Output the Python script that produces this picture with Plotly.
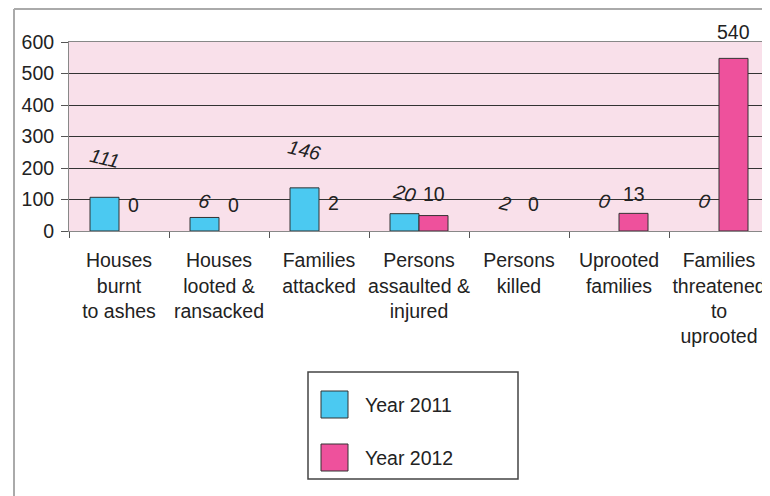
import plotly.graph_objects as go

categories = [
    "Houses<br>burnt<br>to ashes",
    "Houses<br>looted &<br>ransacked",
    "Families<br>attacked",
    "Persons<br>assaulted &<br>injured",
    "Persons<br>killed",
    "Uprooted<br>families",
    "Families<br>threatened<br>to<br>uprooted",
]
# bar heights as drawn in the picture
bars_2011 = [107, 43, 137, 55, 0, 0, 0]
bars_2012 = [0, 0, 0, 49, 0, 56, 548]
# value labels printed on the chart
labels_2011 = ["111", "6", "146", "20", "2", "0", "0"]
labels_2012 = ["0", "0", "2", "10", "0", "13", "540"]
y_ticks = [0, 100, 200, 300, 400, 500, 600]

# label placement (layout only: y in data units, extra shift in pixels)
label_pos_2011 = [232, 95, 257, 120, 89, 95, 95]
label_pos_2012 = [83, 83, 89, 117, 86, 117, 548]
label_shift_2012 = [0, 0, 0, 0, 0, 0, 26]

FONT = "Liberation Sans, Arial, sans-serif"
FS = 19.5
BLUE = "#4BC9F1"
PINK = "#EE519C"

fig = go.Figure()
fig.add_trace(go.Bar(x=categories, y=bars_2011, name="Year 2011",
                     marker=dict(color=BLUE,
                                 line=dict(color="#333", width=[1 if v else 0 for v in bars_2011]))))
fig.add_trace(go.Bar(x=categories, y=bars_2012, name="Year 2012",
                     marker=dict(color=PINK,
                                 line=dict(color="#333", width=[1 if v else 0 for v in bars_2012]))))

annotations = []
for i, c in enumerate(categories):
    annotations.append(dict(x=c, y=label_pos_2011[i], xref="x", yref="y",
                            text="<i>" + labels_2011[i] + "</i>", showarrow=False,
                            xshift=-14.5, textangle=13,
                            font=dict(family=FONT, size=FS, color="#222")))
    annotations.append(dict(x=c, y=label_pos_2012[i], xref="x", yref="y",
                            text=labels_2012[i], showarrow=False,
                            xshift=14.5, yshift=label_shift_2012[i],
                            font=dict(family=FONT, size=FS, color="#222")))

# plot area in page pixels: x 69..769, y 42..231
def px(x):
    return (x - 69) / 700.0

def py(y):
    return (231 - y) / 189.0

shapes = []
# outer frame (left and top edges)
shapes.append(dict(type="line", xref="paper", yref="paper", x0=px(14), x1=px(14),
                   y0=py(9), y1=py(500), line=dict(color="#aaa", width=2)))
shapes.append(dict(type="line", xref="paper", yref="paper", x0=px(14), x1=px(775),
                   y0=py(9), y1=py(9), line=dict(color="#aaa", width=2)))
# legend box
shapes.append(dict(type="rect", xref="paper", yref="paper", x0=px(308), x1=px(518),
                   y0=py(372), y1=py(479), line=dict(color="#444", width=1.5),
                   fillcolor="white"))
for name, color, yc in [("Year 2011", BLUE, 404.5), ("Year 2012", PINK, 457.5)]:
    shapes.append(dict(type="rect", xref="paper", yref="paper", x0=px(321), x1=px(348),
                       y0=py(yc - 13.5), y1=py(yc + 13.5),
                       line=dict(color="#333", width=1), fillcolor=color))
    annotations.append(dict(x=px(363), y=py(yc), xref="paper", yref="paper",
                            xanchor="left", yanchor="middle", text=name, showarrow=False,
                            font=dict(family=FONT, size=FS, color="#222")))

fig.update_layout(
    width=762, height=488,
    margin=dict(l=61, r=1, t=34, b=265),
    paper_bgcolor="white",
    plot_bgcolor="#F9E0EA",
    barmode="group",
    bargap=0.42,
    bargroupgap=0,
    showlegend=False,
    font=dict(family=FONT, size=FS, color="#222"),
    annotations=annotations,
    shapes=shapes,
)
fig.update_yaxes(range=[0, 600], tickvals=y_ticks, showgrid=True, gridcolor="#333",
                 gridwidth=1, showline=True, linecolor="#888", linewidth=1,
                 ticks="outside", ticklen=7, tickcolor="#555", ticklabelstandoff=3,
                 tickfont=dict(family=FONT, size=FS, color="#222"), zeroline=False)
fig.update_xaxes(showline=True, mirror=True, linecolor="#888", linewidth=1, ticks="outside",
                 tickson="boundaries", ticklen=6, tickcolor="#555", ticklabelstandoff=12,
                 tickfont=dict(family=FONT, size=FS, color="#222"), tickangle=0)

fig.write_html("out.html")
